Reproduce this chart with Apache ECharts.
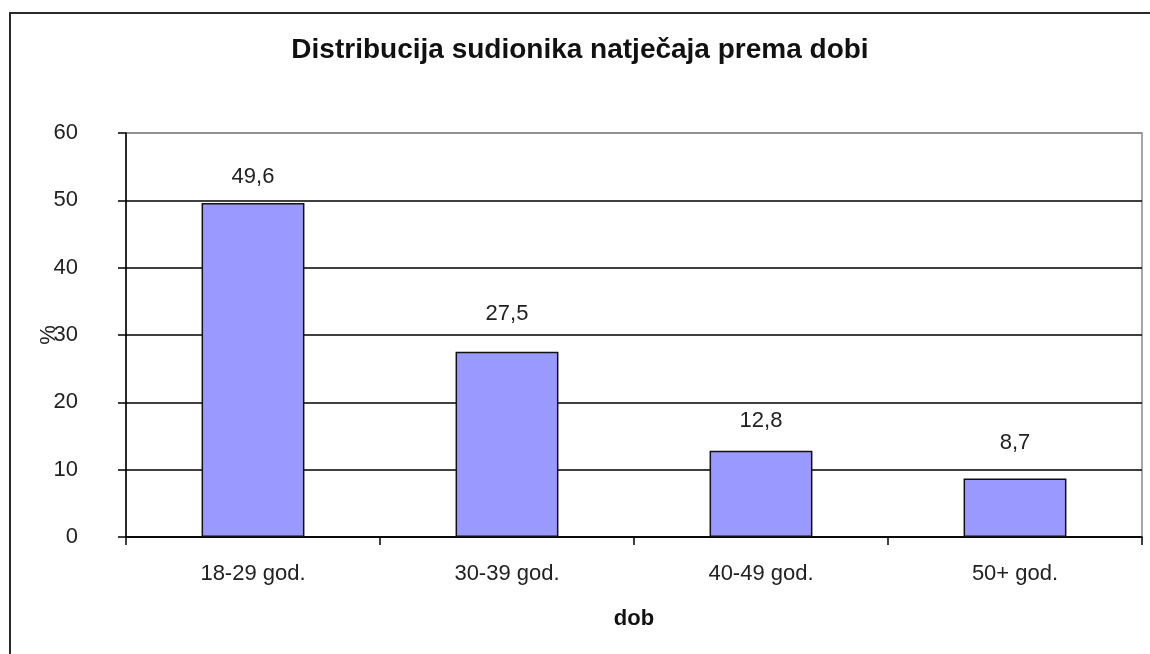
<!DOCTYPE html>
<html>
<head>
<meta charset="utf-8">
<script src="https://cdn.jsdelivr.net/npm/echarts@6/dist/echarts.min.js"></script>
<style>html,body{margin:0;padding:0;background:#fff}#c{width:1150px;height:654px}</style>
</head>
<body>
<div id="c"></div>
<script>
const categories = ['18-29 god.', '30-39 god.', '40-49 god.', '50+ god.'];
const values = [49.6, 27.5, 12.8, 8.7];
const valueLabels = ['49,6', '27,5', '12,8', '8,7'];
const yTicks = [0, 10, 20, 30, 40, 50, 60];

const chart = echarts.init(document.getElementById('c'), null, {renderer: 'canvas'});
const FONT = '"Liberation Sans", Arial, sans-serif';
const labelGaps = [15, 27, 19, 24];
chart.setOption({
  backgroundColor: '#fff',
  animation: false,
  textStyle: {fontFamily: FONT},
  title: {
    text: 'Distribucija sudionika natječaja prema dobi',
    left: 580, top: 36, padding: 0, textAlign: 'center',
    textStyle: {fontFamily: FONT, fontSize: 28, fontWeight: 'bold', color: '#111'}
  },
  graphic: [{
    type: 'rect', silent: true, z: 100,
    shape: {x: 10, y: 13, width: 1170, height: 680},
    style: {fill: 'none', stroke: '#2a2a2a', lineWidth: 2}
  }],
  grid: {left: 126, right: 8, top: 133, bottom: 117, show: true, borderColor: '#8a8a8a', borderWidth: 1.5, backgroundColor: '#fff'},
  xAxis: {
    type: 'category', data: categories,
    name: 'dob', nameLocation: 'middle', nameGap: 71, nameMoveOverlap: false,
    nameTextStyle: {fontFamily: FONT, fontSize: 22, fontWeight: 'bold', color: '#111'},
    axisLine: {lineStyle: {color: '#000', width: 1.5}},
    axisTick: {show: true, length: 8, lineStyle: {color: '#000', width: 1.5}},
    axisLabel: {fontFamily: FONT, fontSize: 22, color: '#222', margin: 26}
  },
  yAxis: {
    type: 'value', min: 0, max: 60, interval: 10,
    name: '%', nameLocation: 'middle', nameGap: 66, nameRotate: 90, nameMoveOverlap: false,
    nameTextStyle: {fontFamily: FONT, fontSize: 22, color: '#222'},
    axisLine: {show: true, lineStyle: {color: '#000', width: 1.5}},
    axisTick: {show: true, length: 8, lineStyle: {color: '#000', width: 1.5}},
    axisLabel: {fontFamily: FONT, fontSize: 22, color: '#222', margin: 48,
      formatter: v => yTicks.includes(v) ? String(v) : ''},
    splitLine: {show: true, lineStyle: {color: ['#000','#000','#000','#000','#000','#000','#8a8a8a'], width: 1.5}}
  },
  series: [{
    type: 'bar',
    data: values.map((v, i) => ({value: v, label: {distance: labelGaps[i]}})),
    barCategoryGap: '59.5%',
    itemStyle: {color: '#9999FF', borderColor: '#111', borderWidth: 1.5},
    label: {show: true, position: 'top', fontFamily: FONT, fontSize: 22, color: '#222',
      formatter: p => valueLabels[p.dataIndex]}
  }]
});
</script>
</body>
</html>
